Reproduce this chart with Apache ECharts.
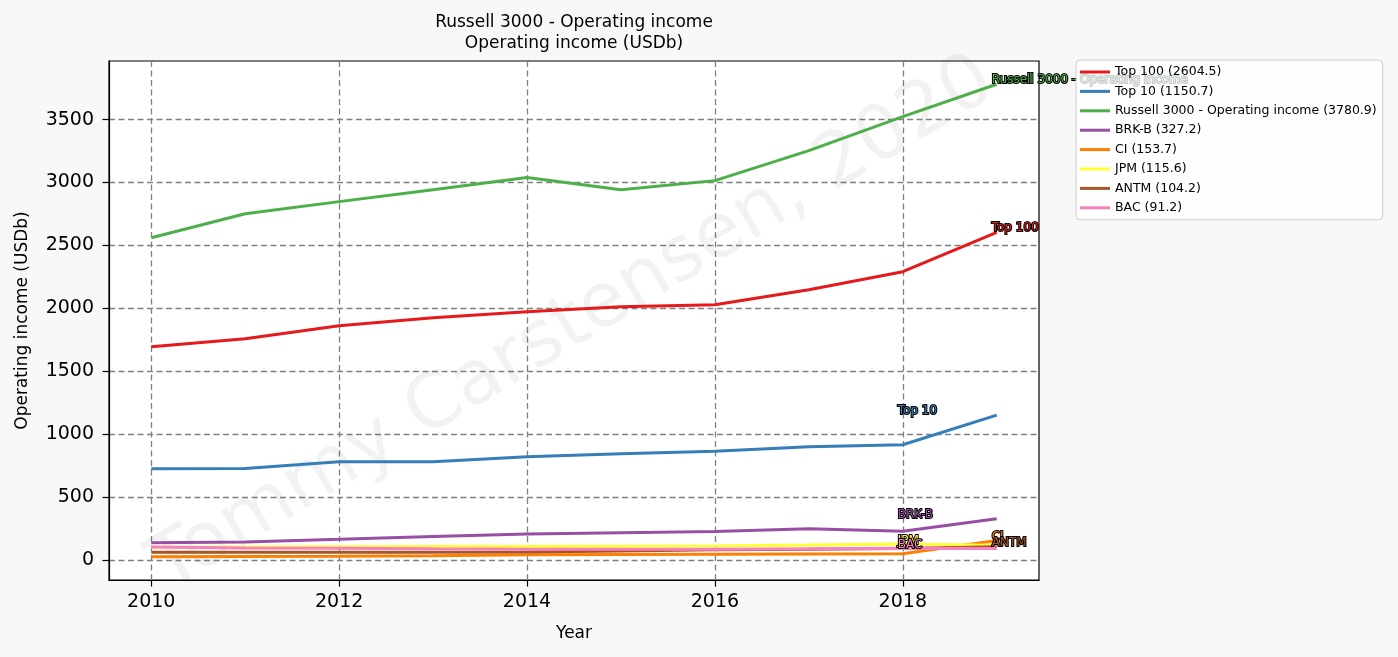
<!DOCTYPE html>
<html>
<head>
<meta charset="utf-8">
<script src="https://cdn.jsdelivr.net/npm/echarts@6/dist/echarts.min.js"></script>
<style>
html,body{margin:0;padding:0;background:#f8f8f8;}
#chart{width:1398px;height:657px;}
</style>
</head>
<body>
<div id="chart"></div>
<script>
const years = [2010, 2011, 2012, 2013, 2014, 2015, 2016, 2017, 2018, 2019];
const top100  = [1694, 1758, 1861, 1925, 1973, 2013, 2028, 2148, 2291, 2604.5];
const top10   = [724, 727, 780, 780, 819, 843, 864, 899, 915, 1150.7];
const russell = [2561, 2752, 2848, 2943, 3039, 2943, 3015, 3253, 3524, 3780.9];
const brkb    = [136, 143, 163, 185, 205, 215, 225, 247, 227, 327.2];
const ci      = [24, 27, 29, 33, 40, 42, 44, 46, 48, 153.7];
const jpm     = [100, 103, 105, 106, 107, 109, 111, 118, 127, 115.6];
const antm    = [60, 60, 60, 61, 62, 70, 80, 85, 90, 104.2];
const bac     = [103, 95, 93, 88, 85, 85, 85, 88, 93, 91.2];

const xTicks = [2010, 2012, 2014, 2016, 2018];
const yTicks = [0, 500, 1000, 1500, 2000, 2500, 3000, 3500];

const defs = [
  {name: 'Top 100', data: top100, color: '#e41a1c', labelAt: 2019},
  {name: 'Top 10', data: top10, color: '#377eb8', labelAt: 2018},
  {name: 'Russell 3000 - Operating income', data: russell, color: '#4daf4a', labelAt: 2019},
  {name: 'BRK-B', data: brkb, color: '#984ea3', labelAt: 2018},
  {name: 'CI', data: ci, color: '#ff7f00', labelAt: 2019},
  {name: 'JPM', data: jpm, color: '#ffff33', labelAt: 2018},
  {name: 'ANTM', data: antm, color: '#a65628', labelAt: 2019},
  {name: 'BAC', data: bac, color: '#f781bf', labelAt: 2018}
];

const series = defs.map(d => {
  const last = d.data[d.data.length - 1];
  return {
    type: 'line',
    name: d.name + ' (' + last.toFixed(1) + ')',
    data: years.map((y, i) => [y, d.data[i]]),
    showSymbol: false,
    symbol: 'none',
    color: d.color,
    lineStyle: {width: 3, color: d.color},
    animation: false,
    markPoint: {
      symbol: 'circle',
      symbolSize: 0,
      silent: true,
      animation: false,
      data: [{
        coord: [d.labelAt, last],
        label: {
          show: true,
          formatter: d.name,
          position: [-5, -4],
          align: 'left',
          verticalAlign: 'middle',
          color: d.color,
          fontFamily: 'DejaVu Sans',
          fontSize: 12,
          textBorderColor: '#000',
          textBorderWidth: 2
        }
      }]
    }
  };
});

const chart = echarts.init(document.getElementById('chart'), null, {renderer: 'canvas'});
const gridLine = {show: true, lineStyle: {color: '#808080', width: 1.3, type: [6, 3.5]}};
chart.setOption({
  backgroundColor: '#f8f8f8',
  animation: false,
  textStyle: {fontFamily: 'DejaVu Sans'},
  graphic: [
    {
      type: 'text', x: 574, y: 12, z: 10,
      style: {
        text: 'Russell 3000 - Operating income\nOperating income (USDb)',
        textAlign: 'center', fontSize: 17, lineHeight: 21,
        fontFamily: 'DejaVu Sans', fill: '#000'
      }
    },
    {
      type: 'text', x: 573, y: 325, z: 1, rotation: 31 * Math.PI / 180, silent: true,
      style: {
        text: 'Tommy Carstensen, 2020',
        textAlign: 'center', textVerticalAlign: 'middle', fontSize: 76,
        fontFamily: 'DejaVu Sans', fill: 'rgba(0,0,0,0.05)'
      }
    }
  ],
  grid: {
    left: 109, right: 359, top: 61, bottom: 77,
    show: true, backgroundColor: '#fff', borderColor: '#000', borderWidth: 1.2,
    containLabel: false
  },
  legend: {
    orient: 'vertical',
    left: 1076, top: 60,
    icon: 'rect',
    itemWidth: 30, itemHeight: 3, itemGap: 5.4,
    padding: [5, 6, 5, 4],
    backgroundColor: 'rgba(255,255,255,0.8)',
    borderColor: '#cccccc', borderWidth: 1, borderRadius: 4,
    textStyle: {fontSize: 12.5, lineHeight: 14, color: '#000', fontFamily: 'DejaVu Sans'},
    selectedMode: false,
    z: 20
  },
  xAxis: {
    type: 'value', min: 2009.55, max: 2019.45,
    name: 'Year', nameLocation: 'middle', nameGap: 45,
    nameTextStyle: {fontSize: 17, color: '#000', fontFamily: 'DejaVu Sans'},
    axisLine: {show: true, onZero: false, lineStyle: {color: '#000', width: 1.2}},
    axisTick: {show: true, length: 6.5, lineStyle: {color: '#000', width: 1.2}, customValues: xTicks},
    axisLabel: {customValues: xTicks, fontSize: 19, color: '#000', margin: 13, fontFamily: 'DejaVu Sans', formatter: v => String(v)},
    splitLine: gridLine
  },
  yAxis: {
    type: 'value', min: -160, max: 3966,
    name: 'Operating income (USDb)', nameLocation: 'middle', nameGap: 78,
    nameTextStyle: {fontSize: 17, color: '#000', fontFamily: 'DejaVu Sans'},
    axisLine: {show: true, onZero: false, lineStyle: {color: '#000', width: 1.2}},
    axisTick: {show: true, length: 6.5, lineStyle: {color: '#000', width: 1.2}, customValues: yTicks},
    axisLabel: {customValues: yTicks, fontSize: 19, color: '#000', margin: 15, fontFamily: 'DejaVu Sans', formatter: v => String(v)},
    splitLine: gridLine
  },
  series: series
});
</script>
</body>
</html>
